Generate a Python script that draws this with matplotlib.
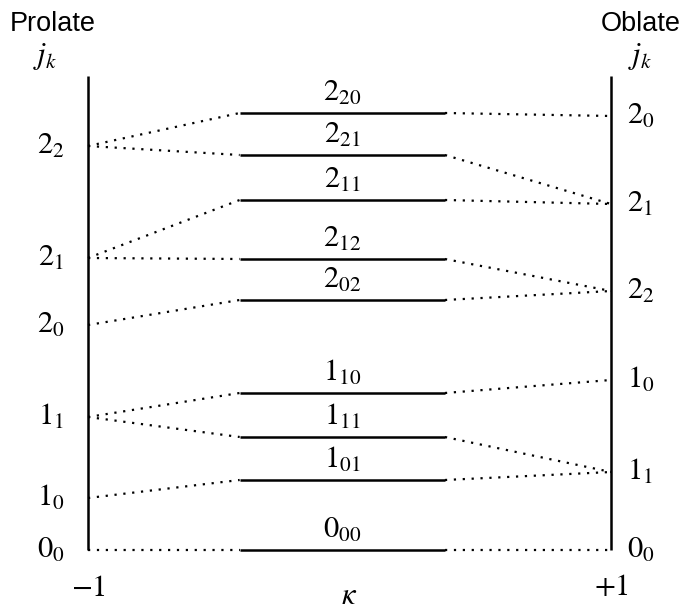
import matplotlib
matplotlib.use("Agg")
import matplotlib.pyplot as plt

plt.rcParams['mathtext.fontset'] = 'stix'
plt.rcParams['font.family'] = ['Liberation Serif', 'DejaVu Serif']

# Energy levels (arbitrary units)
prolate_labels = ["2_2", "2_1", "2_0", "1_1", "1_0", "0_0"]
prolate_E = [40.4, 29.2, 22.5, 13.3, 5.2, 0.0]

oblate_labels = ["2_0", "2_1", "2_2", "1_0", "1_1", "0_0"]
oblate_E = [43.4, 34.6, 25.9, 17.0, 7.8, 0.0]

mid_labels = ["2_{20}", "2_{21}", "2_{11}", "2_{12}", "2_{02}",
              "1_{10}", "1_{11}", "1_{01}", "0_{00}"]
mid_E = [43.7, 39.5, 35.0, 29.1, 25.0, 15.7, 11.3, 7.0, 0.0]
# index of prolate / oblate level each middle level connects to
mid_to_prolate = [0, 0, 1, 1, 2, 3, 3, 4, 5]
mid_to_oblate = [0, 1, 1, 2, 2, 3, 4, 4, 5]

axis_top = 47.4
mid_x0, mid_x1 = -0.42, 0.365
FS = 22

fig = plt.figure(figsize=(6.85, 6.1), dpi=100)
ax = fig.add_axes([0, 0, 1, 1])
ax.set_xlim(-1.3365, 1.283)
ax.set_ylim(-6.0, 55.0)
ax.axis('off')

# vertical axes
ax.plot([-1, -1], [0, axis_top], color='black', lw=1.8, solid_capstyle='butt')
ax.plot([1, 1], [0, axis_top], color='black', lw=1.8, solid_capstyle='butt')

dot = dict(color='black', lw=1.6, linestyle=(0, (1, 3)))
for i, E in enumerate(mid_E):
    ax.plot([mid_x0, mid_x1], [E, E], color='black', lw=1.8, solid_capstyle='butt')
    ax.plot([-1, mid_x0], [prolate_E[mid_to_prolate[i]], E], **dot)
    ax.plot([mid_x1, 1], [E, oblate_E[mid_to_oblate[i]]], **dot)
    ax.text((mid_x0 + mid_x1) / 2, E + 0.5, f"${mid_labels[i]}$",
            ha='center', va='bottom', fontsize=FS)

for lab, E in zip(prolate_labels, prolate_E):
    ax.text(-1.09, E, f"${lab}$", ha='right', va='center', fontsize=FS)
for lab, E in zip(oblate_labels, oblate_E):
    ax.text(1.06, E, f"${lab}$", ha='left', va='center', fontsize=FS)

sans = ['Liberation Sans', 'DejaVu Sans']
ax.text(-1.30, 52.6, "Prolate", ha='left', va='center', fontsize=19.5, family=sans)
ax.text(1.265, 52.6, "Oblate", ha='right', va='center', fontsize=19.5, family=sans)
ax.text(-1.165, 49.4, "$j_k$", ha='center', va='center', fontsize=FS)
ax.text(1.11, 49.4, "$j_k$", ha='center', va='center', fontsize=FS)

ax.text(-1.0, -3.8, "$-1$", ha='center', va='center', fontsize=FS)
ax.text(1.0, -3.8, "$+1$", ha='center', va='center', fontsize=FS)
ax.text(0.0, -4.6, r"$\kappa$", ha='center', va='center', fontsize=FS)

fig.savefig("out.png", dpi=100)
